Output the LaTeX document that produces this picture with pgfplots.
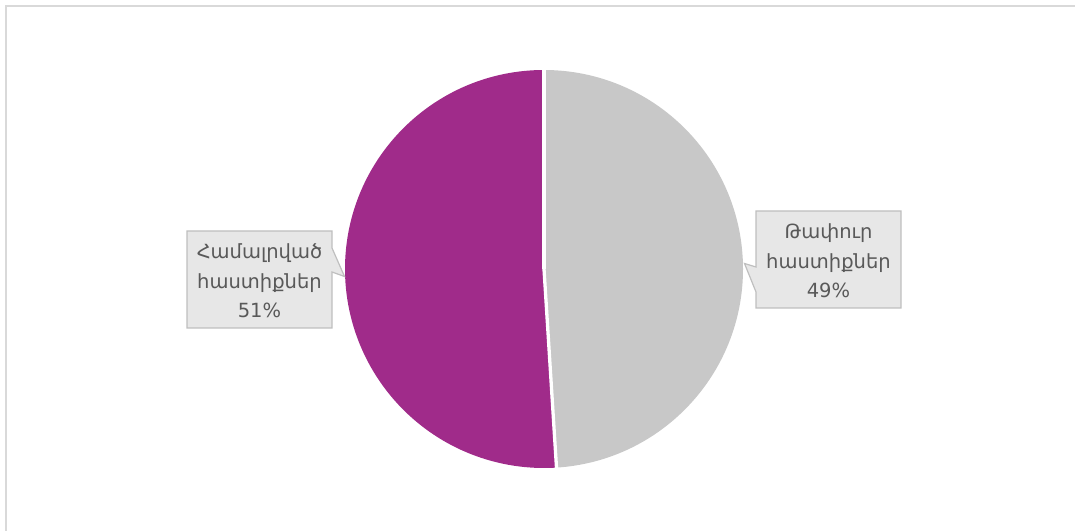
\documentclass[border=0pt]{standalone}
\usepackage{pgfplots}
\pgfplotsset{compat=1.18}
\usepackage{fontspec}
\setmainfont{DejaVu Sans}
\definecolor{pieA}{RGB}{160,43,138}
\definecolor{pieB}{RGB}{200,200,200}
\definecolor{boxfill}{RGB}{231,231,231}
\definecolor{boxline}{RGB}{191,191,191}
\definecolor{txt}{RGB}{89,89,89}
\definecolor{frame}{RGB}{217,217,217}
% data: share in percent
\def\valA{51} % Համալրված հաստիքներ
\def\valB{49} % Թափուր հաստիքներ
\begin{document}
\begin{tikzpicture}
\begin{axis}[
  name=ax,
  x=1bp, y=1bp, y dir=reverse,
  xmin=0, xmax=1075, ymin=0, ymax=531,
  hide axis, clip=false,
]
% frame
\draw[frame, line width=2bp] (axis cs:5.5,531) -- (axis cs:5.5,6.5) -- (axis cs:1075,6.5);
% pie
\pgfmathsetmacro{\endB}{90-\valB*3.6}
\pgfmathsetmacro{\endA}{90+\valA*3.6}
\fill[pieB] (axis cs:544,269) -- (axis cs:544,70) arc[start angle=90, end angle=\endB, radius=199bp] -- cycle;
\fill[pieA] (axis cs:544,269) -- (axis cs:544,70) arc[start angle=90, end angle=\endA, radius=199bp] -- cycle;
\draw[white, line width=3.3bp] (axis cs:544,269) -- (axis cs:544,68);
\draw[white, line width=3.3bp] (axis cs:544,269) -- +(\endB:202bp);
% callouts
\filldraw[fill=boxfill, draw=boxline, line width=1.2bp]
  (axis cs:756,211) -- (axis cs:901,211) -- (axis cs:901,308) -- (axis cs:756,308)
  -- (axis cs:756,292) -- (axis cs:744.5,263.5) -- (axis cs:756,267) -- cycle;
\filldraw[fill=boxfill, draw=boxline, line width=1.2bp]
  (axis cs:187,231) -- (axis cs:332,231) -- (axis cs:332,248) -- (axis cs:344.5,276.5)
  -- (axis cs:332,272) -- (axis cs:332,328) -- (axis cs:187,328) -- cycle;
\node[txt, align=center, font=\fontsize{19.5bp}{29.5bp}\selectfont] at (axis cs:828.5,261) {Թափուր\\հաստիքներ\\\valB\%};
\node[txt, align=center, font=\fontsize{19.5bp}{29.5bp}\selectfont] at (axis cs:259.5,281) {Համալրված\\հաստիքներ\\\valA\%};
\end{axis}
\pgfresetboundingbox
\path[use as bounding box] (ax.south west) rectangle (ax.north east);
\end{tikzpicture}
\end{document}
